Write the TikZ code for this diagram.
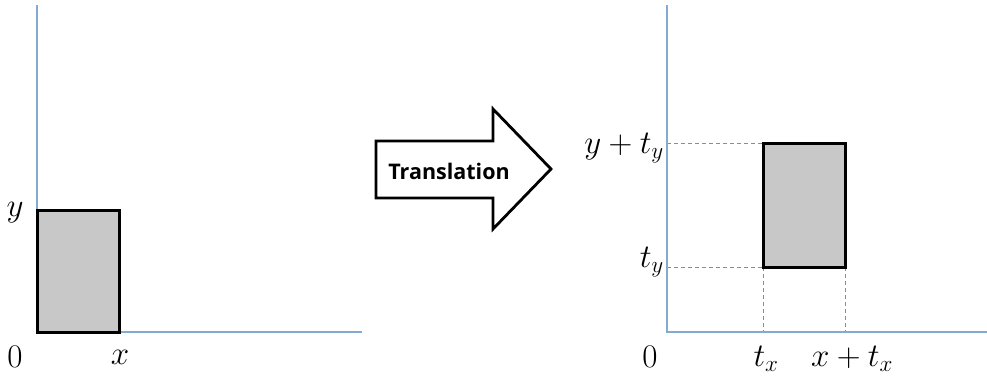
\documentclass[tikz,border=0pt]{standalone}
\usepackage{fix-cm}
\usepackage{fontspec}
\setsansfont{Open Sans}
\usetikzlibrary{positioning}
\definecolor{axisblue}{RGB}{130,170,210}
\definecolor{boxgray}{RGB}{200,200,200}
\definecolor{guide}{RGB}{140,140,140}

\begin{document}
\begin{tikzpicture}[x=1pt,y=-1pt,
      axis/.style={draw=axisblue,line width=1.5pt},
      shape box/.style={draw=black,fill=boxgray,line width=3pt},
      guideline/.style={draw=guide,dash pattern=on 4pt off 3pt,line width=0.8pt},
      lbl/.style={font=\fontsize{33}{36}\selectfont,inner sep=0pt}]
    \useasboundingbox (0,0) rectangle (987,383);
    % left axes and shape
    \coordinate (lo) at (37,332);
    \coordinate (ltop) at (37,5);
    \coordinate (lend) at (362,332);
    \draw[axis] (ltop)--(lo)--(lend);
    \coordinate (la) at (37,210);
    \coordinate (lb) at (119,332);
    \draw[shape box] (la) rectangle (lb);
    \node[lbl] (ly) at (15,213) {$y$};
    \node[lbl] (l0) at (15,357) {$0$};
    \node[lbl] (lx) at (120,357) {$x$};
    % translation arrow
    \draw[line width=2.8pt,fill=white,line join=miter]
      (376,141)--(493,141)--(493,109)--(551,169)--(493,229)--(493,198)--(376,198)--cycle;
    \node[font=\sffamily\bfseries\fontsize{21.5}{24}\selectfont] (move) at (449,171) {Translation};
    % right axes and shape
    \coordinate (ro) at (667,332);
    \coordinate (rtop) at (667,5);
    \coordinate (rend) at (990,332);
    \coordinate (ra) at (763,143);
    \coordinate (rb) at (845,267);
    \coordinate (rc) at (763,267);
    \coordinate (rd) at (845,143);
    \draw[guideline] (ra-|ro)--(ra);
    \draw[guideline] (rc-|ro)--(rc);
    \draw[guideline] (rc)--(rc|-ro);
    \draw[guideline] (rb)--(rb|-ro);
    \draw[axis] (rtop)--(ro)--(rend);
    \draw[shape box] (ra) rectangle (rb);
    \node[lbl,anchor=east] (ryt) at (664,148) {$y+t_y$};
    \node[lbl,anchor=east] (rty) at (664,262) {$t_y$};
    \node[lbl] (r0) at (650,357) {$0$};
    \node[lbl] (rtx) at (766,359) {$t_x$};
    \node[lbl] (rxt) at (852,359) {$x+t_x$};
\end{tikzpicture}
\end{document}
